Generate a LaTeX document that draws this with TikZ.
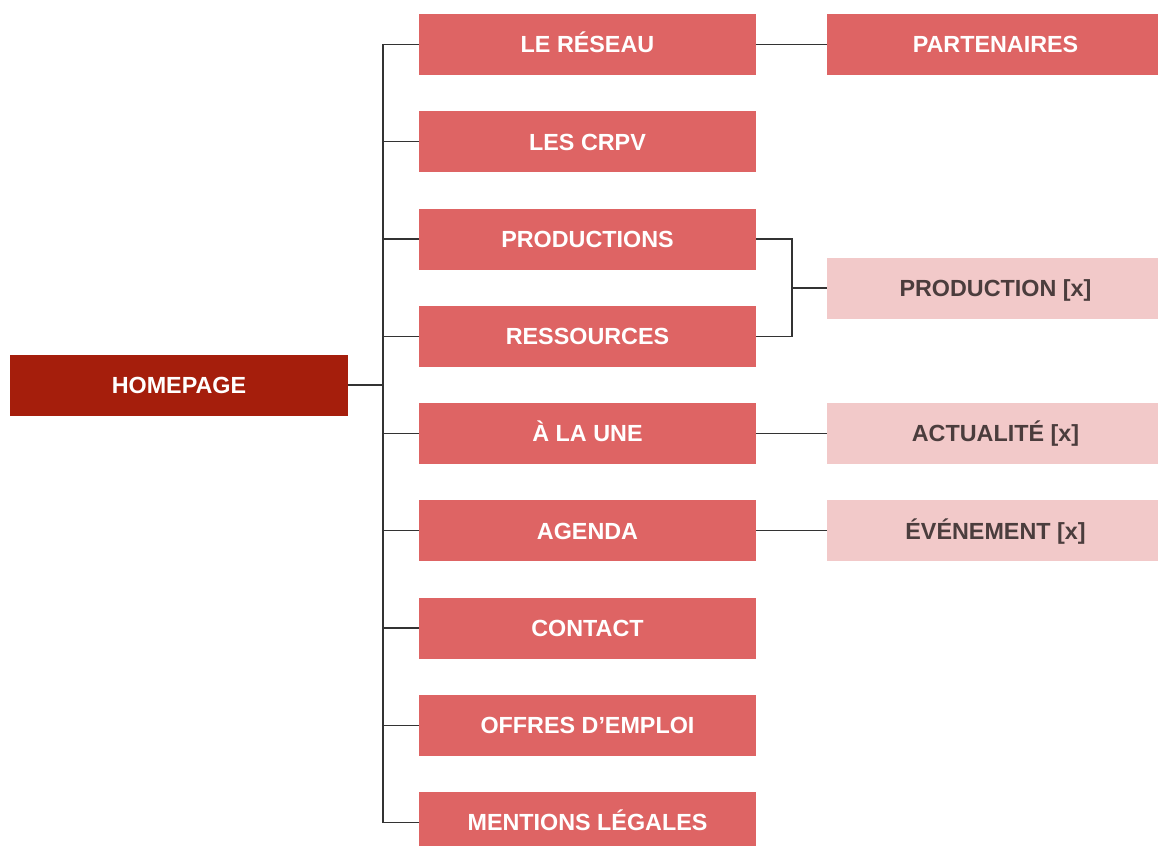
\documentclass[tikz,border=0pt]{standalone}
\usepackage{fontspec}
\setmainfont{Liberation Sans}
\usetikzlibrary{math}
\definecolor{homered}{HTML}{A51E0C}
\definecolor{pagered}{HTML}{DE6464}
\definecolor{subpink}{HTML}{F2C9C9}
\definecolor{subtext}{HTML}{4B3D3D}
\definecolor{linkgray}{HTML}{333333}
\tikzset{
  page/.style = {fill=pagered, text=white, minimum width=252.75pt, minimum height=45.75pt, inner sep=0pt, text height=12.6pt, text depth=0pt, font=\bfseries\fontsize{17.5}{20}\selectfont},
  home/.style = {page, fill=homered, minimum width=253.5pt},
  subpage/.style = {page, fill=subpink, text=subtext},
  link/.style = {draw=linkgray, line width=1pt}
}
\begin{document}
\begin{tikzpicture}[x = 0.75pt, y = -0.75pt]

    \useasboundingbox (0,0) rectangle (1158,846);
    \tikzmath{\xa = 179;};
    \tikzmath{\xb = 587.5;};
    \tikzmath{\xc = 995.5;};
    \tikzmath{\dy = 97.25;};

    \node [home] (home) at (\xa,385) {HOMEPAGE};

    \node [page] (reseau)     at (\xb,44.5)        {LE RÉSEAU};
    \node [page] (crpv)       at (\xb,44.5+\dy)    {LES CRPV};
    \node [page] (productions) at (\xb,44.5+2*\dy) {PRODUCTIONS};
    \node [page] (ressources) at (\xb,44.5+3*\dy)  {RESSOURCES};
    \node [page] (une)        at (\xb,44.5+4*\dy)  {À LA UNE};
    \node [page] (agenda)     at (\xb,44.5+5*\dy)  {AGENDA};
    \node [page] (contact)    at (\xb,44.5+6*\dy)  {CONTACT};
    \node [page] (emploi)     at (\xb,44.5+7*\dy)  {OFFRES D’EMPLOI};
    \node [page] (mentions)   at (\xb,44.5+8*\dy)  {MENTIONS LÉGALES};

    \node [page]    (partenaires) at (\xc,44.5)       {PARTENAIRES};
    \node [subpage] (production)  at (\xc,288)        {PRODUCTION [x]};
    \node [subpage] (actualite)   at (\xc,44.5+4*\dy) {ACTUALITÉ [x]};
    \node [subpage] (evenement)   at (\xc,44.5+5*\dy) {ÉVÉNEMENT [x]};

    % trunk from the homepage
    \coordinate (trunk) at (383,385);
    \draw [link] (home.east) -- (trunk);
    \draw [link] (reseau.west) -- (reseau.west -| trunk) |- (mentions.west);
    \foreach \p in {crpv, productions, ressources, une, agenda, contact, emploi}
        \draw [link] (\p.west) -- (\p.west -| trunk);

    % second level
    \draw [link] (reseau) -- (partenaires);
    \coordinate (fork) at (792,288);
    \draw [link] (productions.east) -| (fork) |- (ressources.east);
    \draw [link] (fork) -- (production.west);
    \draw [link] (une) -- (actualite);
    \draw [link] (agenda) -- (evenement);

\end{tikzpicture}
\end{document}
